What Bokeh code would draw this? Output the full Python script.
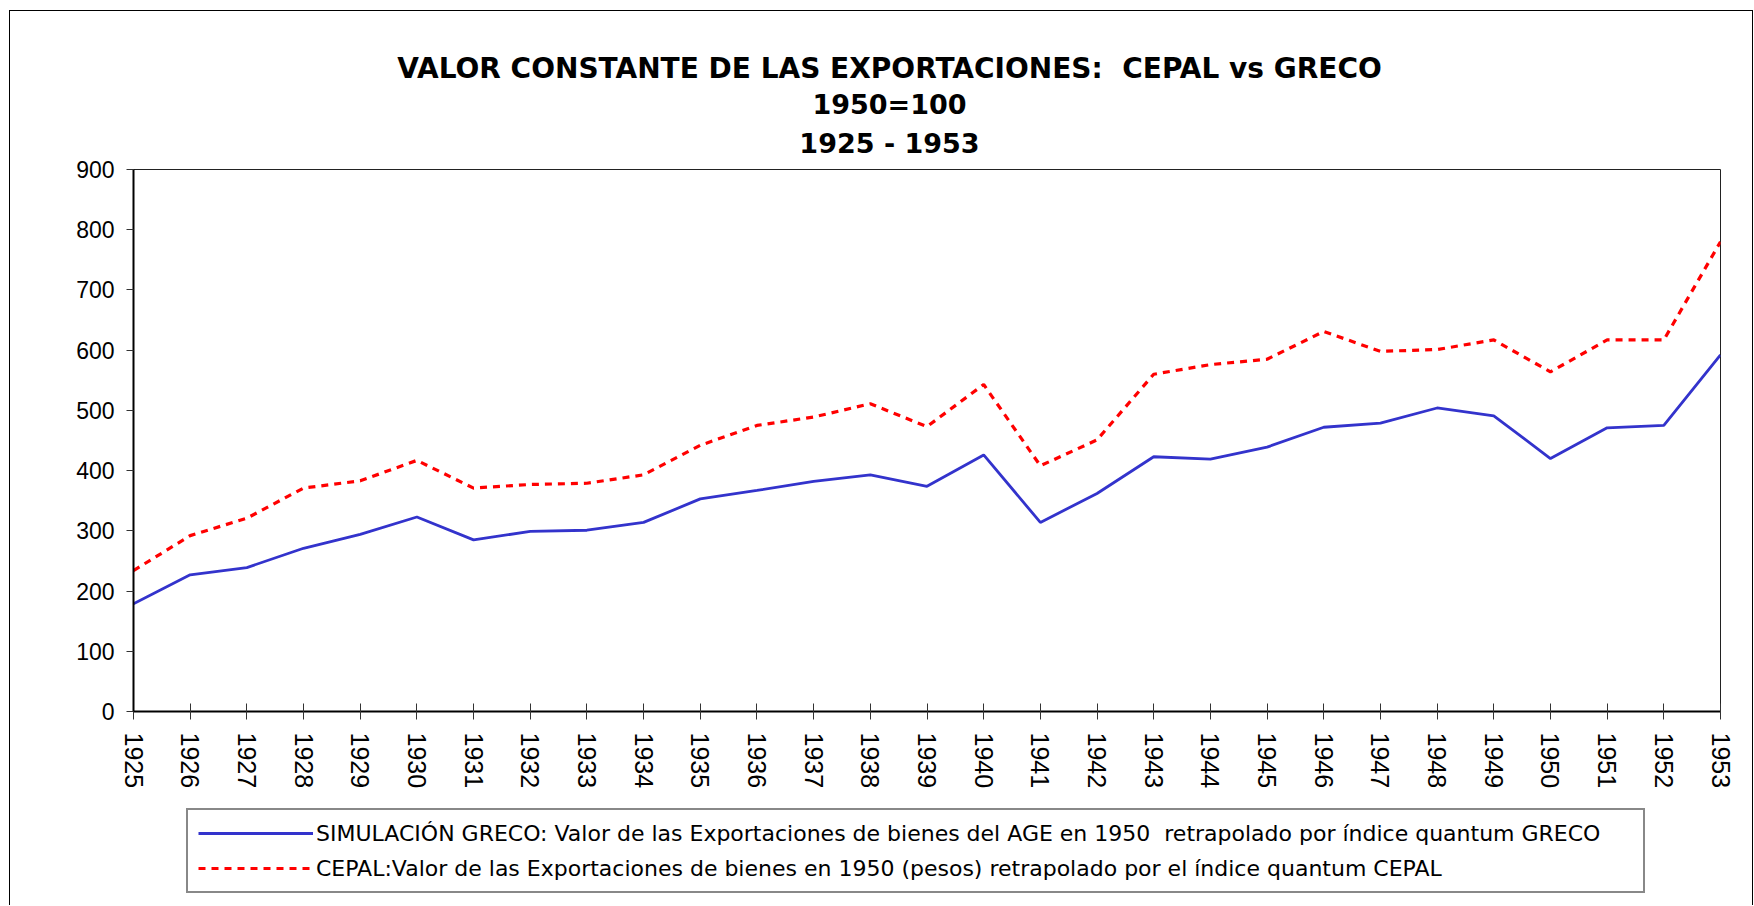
import math
from bokeh.plotting import figure
from bokeh.layouts import column
from bokeh.models import (Range1d, FixedTicker, Label, Legend, LegendItem, ColumnDataSource)
from bokeh.embed import file_html
from bokeh.resources import INLINE

# ---------------- data ----------------
years = list(range(1925, 1954))
greco = [179, 227, 239, 271, 294, 323, 285, 299, 301, 314, 353, 367, 382, 393, 374,
         426, 314, 362, 423, 419, 439, 472, 479, 504, 491, 420, 471, 475, 592]
cepal = [234, 292, 321, 371, 383, 417, 371, 377, 379, 393, 442, 475, 489, 511, 473,
         543, 408, 451, 560, 576, 585, 631, 598, 601, 617, 564, 617, 617, 780]
y_ticks = [0, 100, 200, 300, 400, 500, 600, 700, 800, 900]
title_lines = ["VALOR CONSTANTE DE LAS EXPORTACIONES:\u00a0 CEPAL vs GRECO", "1950=100", "1925 - 1953"]
legend_labels = [
    "SIMULACIÓN GRECO: Valor de las Exportaciones de bienes del AGE en 1950\u00a0 retrapolado por índice quantum GRECO",
    "CEPAL:Valor de las Exportaciones de bienes en 1950 (pesos) retrapolado por el índice quantum CEPAL",
]

FONT = "Liberation Sans"
TFONT = "DejaVu Sans"
BLUE = "#3333CC"
RED = "#FF0000"

# common horizontal geometry (page pixels): frame from x=133 to x=1720
BL, FW, BR = 133, 1587, 33
TITLE_H = 158
LEG_H = 110


def blank_figure(height, y_range):
    f = figure(frame_width=FW, frame_height=height,
               min_border_left=BL, min_border_right=BR, min_border_top=0, min_border_bottom=0,
               x_range=Range1d(BL, BL + FW), y_range=y_range,
               x_axis_type=None, y_axis_type=None,
               output_backend="svg", toolbar_location=None, tools="")
    f.background_fill_color = None
    f.border_fill_color = None
    f.outline_line_color = None
    f.grid.visible = False
    return f


# ---------------- title block ----------------
tf = blank_figure(TITLE_H, Range1d(TITLE_H, 0))
for txt, yc, size in zip(title_lines, [67.5, 104, 143], ["28px", "27px", "27px"]):
    tf.add_layout(Label(x=889, y=yc, text=txt, text_align="center", text_baseline="middle",
                        text_font=TFONT, text_font_style="bold", text_font_size=size,
                        text_color="black"))

# ---------------- main chart ----------------
p = figure(frame_width=FW, frame_height=542,
           min_border_left=BL, min_border_right=BR, min_border_top=11, min_border_bottom=84,
           x_range=Range1d(1925, 1953), y_range=Range1d(0, 900),
           output_backend="svg", toolbar_location=None, tools="", title=None)
p.background_fill_color = "white"
p.border_fill_color = None
p.outline_line_color = "#222222"
p.outline_line_width = 1
p.xgrid.visible = False
p.ygrid.visible = False

src = ColumnDataSource(dict(year=years, greco=greco, cepal=cepal))
p.line("year", "greco", source=src, line_color=BLUE, line_width=2.8)
p.line("year", "cepal", source=src, line_color=RED, line_width=3.2, line_dash="7 6")

xa = p.xaxis[0]
xa.ticker = FixedTicker(ticks=years)
xa.major_label_orientation = -math.pi / 2
xa.major_label_text_font = FONT
xa.major_label_text_font_size = "25px"
xa.major_label_text_color = "black"
xa.major_tick_in = 8
xa.major_tick_out = 8
xa.major_tick_line_color = "#333333"
xa.minor_tick_line_color = None
xa.axis_line_color = "black"
xa.axis_line_width = 2
xa.major_label_standoff = 13

ya = p.yaxis[0]
ya.ticker = FixedTicker(ticks=y_ticks)
ya.major_label_text_font = FONT
ya.major_label_text_font_size = "23px"
ya.major_label_text_color = "black"
ya.major_tick_in = 0
ya.major_tick_out = 7
ya.major_tick_line_color = "#333333"
ya.minor_tick_line_color = None
ya.axis_line_color = "black"
ya.axis_line_width = 2
ya.major_label_standoff = 12

# ---------------- legend block ----------------
lf = blank_figure(LEG_H, Range1d(0, LEG_H))
nodata = ColumnDataSource(dict(x=[float("nan")], y=[float("nan")]))
lg1 = lf.line("x", "y", source=nodata, line_color=BLUE, line_width=2.8)
lg2 = lf.line("x", "y", source=nodata, line_color=RED, line_width=3.2, line_dash="7 6")
legend = Legend(items=[LegendItem(label=legend_labels[0], renderers=[lg1]),
                       LegendItem(label=legend_labels[1], renderers=[lg2])],
                location=(186 - BL, 12),
                label_text_font=TFONT, label_text_font_size="22px", label_text_color="black",
                glyph_width=115, glyph_height=26, label_height=26, label_width=1317,
                label_standoff=3, spacing=9, padding=10, margin=0,
                border_line_color="#111111", border_line_width=2,
                background_fill_color="white", background_fill_alpha=1)
lf.add_layout(legend, "center")

page = column(tf, p, lf, spacing=0,
              styles={"box-shadow": "inset 9px 10px 0 0 white, inset -1px 0 0 0 black, inset 10px 11px 0 0 black",
                      "background-color": "white"})

open("out.html", "w").write(file_html(page, INLINE))
